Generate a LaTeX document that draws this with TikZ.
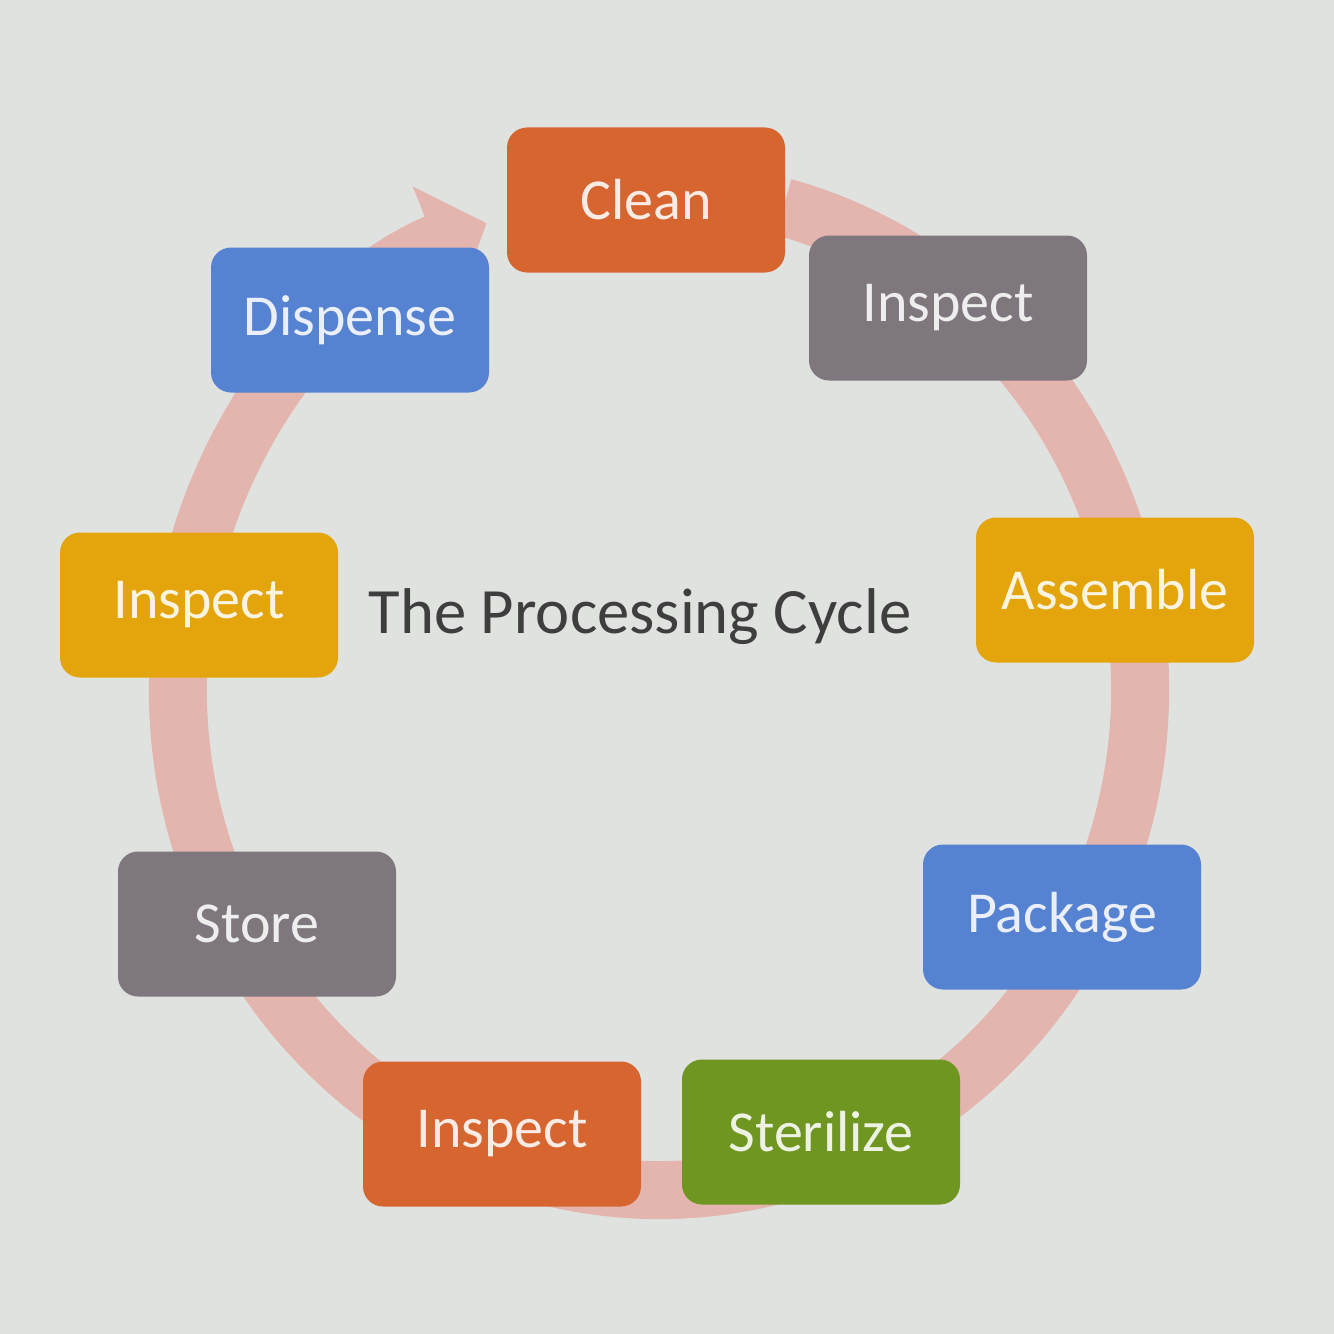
\documentclass[tikz,border=0pt]{standalone}
\usepackage{fontspec}
\setmainfont{Carlito}
\usetikzlibrary{arrows.meta}

\definecolor{paper}{RGB}{224,226,223}
\definecolor{ringpink}{RGB}{228,180,174}
\definecolor{boxorange}{RGB}{214,101,48}
\definecolor{boxgray}{RGB}{126,119,126}
\definecolor{boxyellow}{RGB}{228,165,12}
\definecolor{boxblue}{RGB}{86,130,210}
\definecolor{boxgreen}{RGB}{110,150,32}
\definecolor{titlegray}{RGB}{62,62,62}

\begin{document}
\begin{tikzpicture}[
    box/.style={rounded corners=0.2cm, minimum width=2.78cm, minimum height=1.45cm,
        text=white, text opacity=0.88, font=\fontsize{16.5}{18}\selectfont},
    ring/.style={line width=0.58cm, draw=ringpink, -{Triangle[width=1.2cm,length=0.55cm]}}
]

% paper
\fill[paper] (0,0) rectangle (13.34,-13.34);
\useasboundingbox (0,0) rectangle (13.34,-13.34);

% Cycle ring
\coordinate (hub) at (6.59,-6.90);
\draw[ring] ([shift={(75:4.81 and 5.0)}]hub)
    arc[start angle=75, end angle=-249, x radius=4.81, y radius=5.0];

% Title
\node[text=titlegray, font=\fontsize{18.4}{20}\selectfont] (title) at (6.40,-6.17) {The Processing Cycle};

% Steps
\node[box, fill=boxorange] (clean)     at (6.46,-2.00)  {Clean};
\node[box, fill=boxgray]   (inspectA)  at (9.48,-3.08)  {Inspect};
\node[box, fill=boxyellow] (assemble)  at (11.15,-5.90) {Assemble};
\node[box, fill=boxblue]   (package)   at (10.62,-9.17) {Package};
\node[box, fill=boxgreen]  (sterilize) at (8.21,-11.32) {Sterilize};
\node[box, fill=boxorange] (inspectB)  at (5.02,-11.34) {Inspect};
\node[box, fill=boxgray]   (store)     at (2.57,-9.24)  {Store};
\node[box, fill=boxyellow] (inspectC)  at (1.99,-6.05)  {Inspect};
\node[box, fill=boxblue]   (dispense)  at (3.50,-3.20)  {Dispense};

\end{tikzpicture}
\end{document}
